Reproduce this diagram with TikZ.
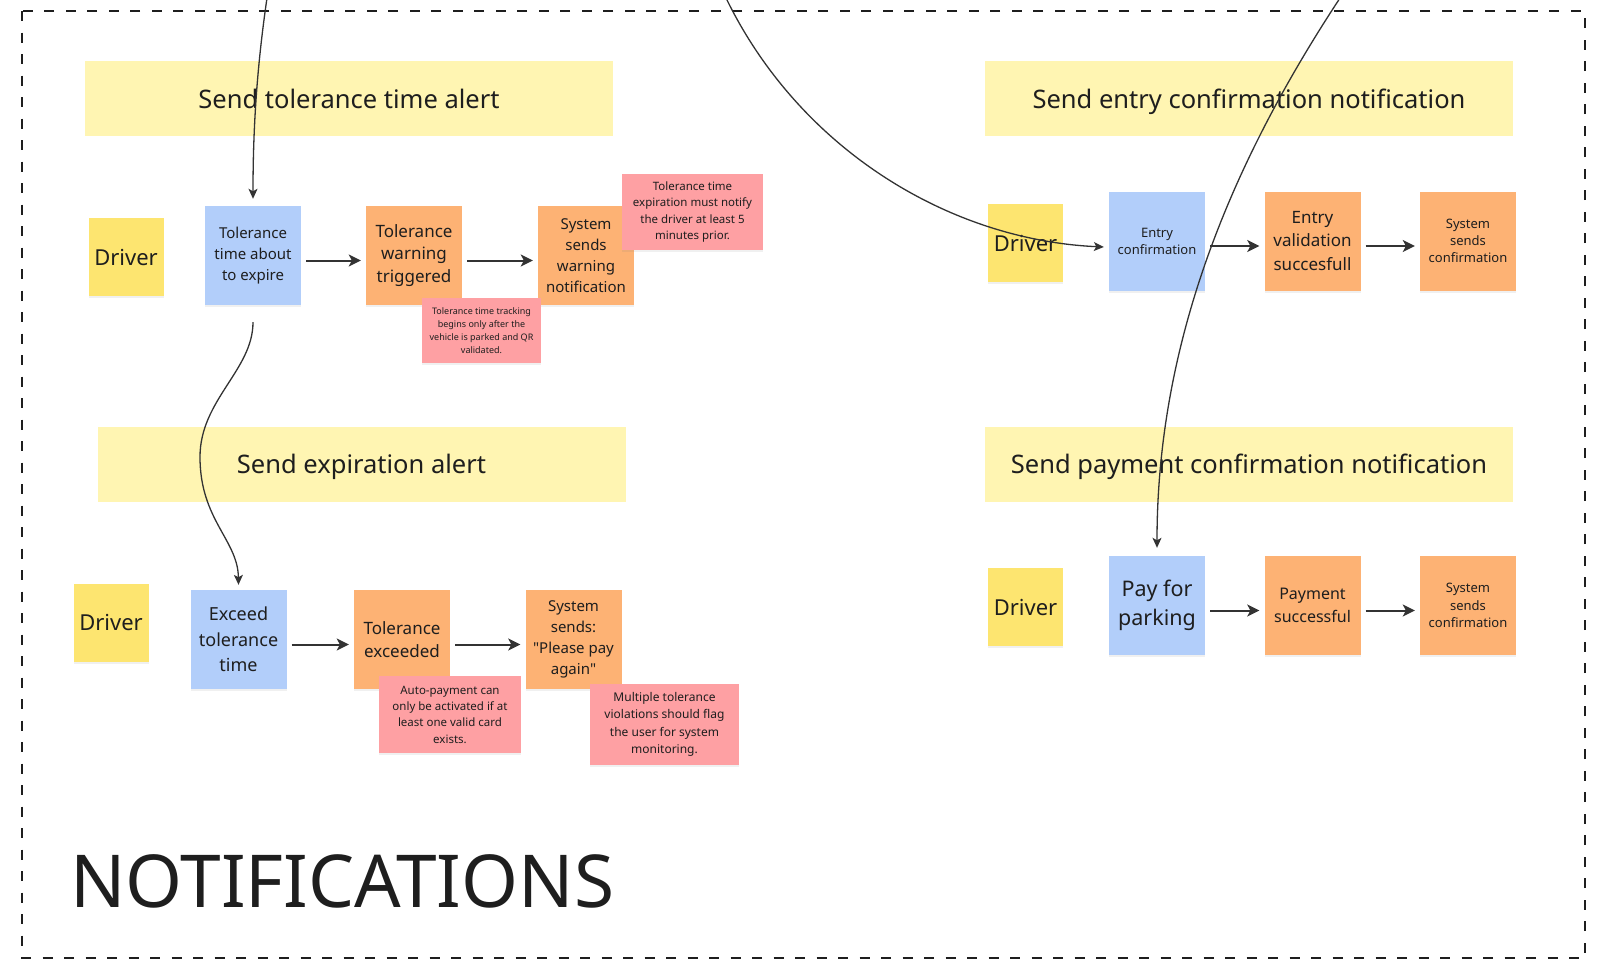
\documentclass[tikz,border=0pt]{standalone}
\usepackage{fontspec}
\setmainfont{Noto Sans}
\usepackage{tikz}
\usetikzlibrary{arrows.meta,shadows}
\definecolor{Ink}{RGB}{30,30,30}
\definecolor{Wire}{RGB}{51,51,51}
\definecolor{Banner}{RGB}{255,245,178}
\definecolor{Actor}{RGB}{253,229,112}
\definecolor{Command}{RGB}{178,206,250}
\definecolor{Event}{RGB}{253,178,116}
\definecolor{Policy}{RGB}{254,160,163}
\newcommand{\fs}[2]{\fontsize{#1}{#2}\selectfont}
\newcommand{\Flow}[2]{% from to
\draw[flow] ([yshift=-5pt]#1.east) -- ([yshift=-5pt]#2.west);
}

\begin{document}
\begin{tikzpicture}[x=1pt,y=-1pt,
  sticky/.style={text=Ink,align=center,inner sep=0pt,
    drop shadow={opacity=0.12,shadow xshift=0pt,shadow yshift=-2pt}},
  driver/.style={sticky,fill=Actor,minimum width=75pt,minimum height=78pt,font=\fs{22}{26}},
  card/.style={sticky,minimum width=96pt,minimum height=99pt},
  note/.style={sticky,fill=Policy},
  banner/.style={fill=Banner,text=Ink,minimum width=528pt,minimum height=75pt,
    text depth=0pt,font=\fs{25.5}{30}},
  flow/.style={draw=Wire,line width=2pt,-{Stealth[length=12pt,width=12pt,inset=3pt]},
    shorten <=5pt,shorten >=5pt},
  link/.style={draw=Wire,line width=1.3pt,-{Stealth[length=10pt,width=9pt,inset=2.5pt]}},
  frame/.style={draw=Ink,line width=2.2pt,dash pattern=on 10pt off 11.5pt}]
\useasboundingbox (0,0) rectangle (1600,975);
\draw[frame] (22,11) rectangle (1585,958);

% lane headers
\node[banner] (banA) at (349,98.5) {Send tolerance time alert};
\node[banner] (banB) at (361.5,464) {Send expiration alert};
\node[banner] (banC) at (1249,98.5) {Send entry confirmation notification};
\node[banner] (banD) at (1249,464) {Send payment confirmation notification};

% tolerance time alert
\node[driver] (drvA) at (126,257) {Driver};
\node[card,fill=Command,font=\fs{15}{21}] (tolA) at (253,255.5) {Tolerance\\time about\\to expire};
\node[card,fill=Event,font=\fs{17}{22.5}] (warnA) at (414,255.5) {Tolerance\\warning\\triggered};
\node[card,fill=Event,font=\fs{15}{21}] (sysA) at (586,255.5) {System\\sends\\warning\\notification};
\node[note,minimum width=141pt,minimum height=76pt,font=\fs{11.5}{16.3}] (ruleA1) at (692.5,212)
  {Tolerance time\\expiration must notify\\the driver at least 5\\minutes prior.};
\node[note,minimum width=119pt,minimum height=65pt,font=\fs{9}{12.8}] (ruleA2) at (481.5,330.5)
  {Tolerance time tracking\\begins only after the\\vehicle is parked and QR\\validated.};

% expiration alert
\node[driver] (drvB) at (111,622.5) {Driver};
\node[card,fill=Command,font=\fs{18}{25.5}] (excB) at (238.5,639.5) {Exceed\\tolerance\\time};
\node[card,fill=Event,font=\fs{17}{22.5}] (tolB) at (402,639.5) {Tolerance\\exceeded};
\node[card,fill=Event,font=\fs{15}{21}] (sysB) at (573.5,639.5)
  {System\\sends:\\\textquotedbl Please pay\\again\textquotedbl};
\node[note,minimum width=142pt,minimum height=77pt,font=\fs{11.5}{16.3}] (ruleB1) at (450,714.5)
  {Auto-payment can\\only be activated if at\\least one valid card\\exists.};
\node[note,minimum width=149pt,minimum height=81pt,font=\fs{12}{17.3}] (ruleB2) at (664.5,724.5)
  {Multiple tolerance\\violations should flag\\the user for system\\monitoring.};

% entry confirmation
\node[driver] (drvC) at (1025.5,243) {Driver};
\node[card,fill=Command,font=\fs{13}{17}] (entC) at (1157,241) {Entry\\confirmation};
\node[card,fill=Event,font=\fs{17}{23.5}] (valC) at (1312.5,241) {Entry\\validation\\succesfull};
\node[card,fill=Event,font=\fs{13}{17.3}] (sysC) at (1468,241) {System\\sends\\confirmation};

% payment confirmation
\node[driver] (drvD) at (1025.5,607) {Driver};
\node[card,fill=Command,font=\fs{21.5}{29.6}] (payD) at (1157,605.5) {Pay for\\parking};
\node[card,fill=Event,font=\fs{16}{22.5}] (succD) at (1312.5,605.5) {Payment\\successful};
\node[card,fill=Event,font=\fs{13}{17.3}] (sysD) at (1468,605.5) {System\\sends\\confirmation};

\node[anchor=base west,text=Ink,inner sep=0pt,font=\fs{73}{78}] (title) at (70,907) {NOTIFICATIONS};

\Flow{tolA}{warnA}
\Flow{warnA}{sysA}
\Flow{excB}{tolB}
\Flow{tolB}{sysB}
\Flow{entC}{valC}
\Flow{valC}{sysC}
\Flow{payD}{succD}
\Flow{succD}{sysD}

% links coming in from outside the frame
\coordinate (inA) at (267,-2);
\coordinate (inC) at (726,-2);
\coordinate (inD) at (1340,-2);
\draw[link] (inA) .. controls (258,60) and (253,120) .. ([yshift=7pt]tolA.north);
\draw[link] ([yshift=-17pt]tolA.south) .. controls (253,370) and (200,400) .. (200,457)
  .. controls (200,520) and (238,540) .. ([yshift=5pt]excB.north);
\draw[link] (inC) .. controls (800,150) and (950,240) .. ([xshift=-5pt,yshift=-6pt]entC.west);
\draw[link] (inD) .. controls (1240,150) and (1157,330) .. ([yshift=8pt]payD.north);
\end{tikzpicture}
\end{document}
